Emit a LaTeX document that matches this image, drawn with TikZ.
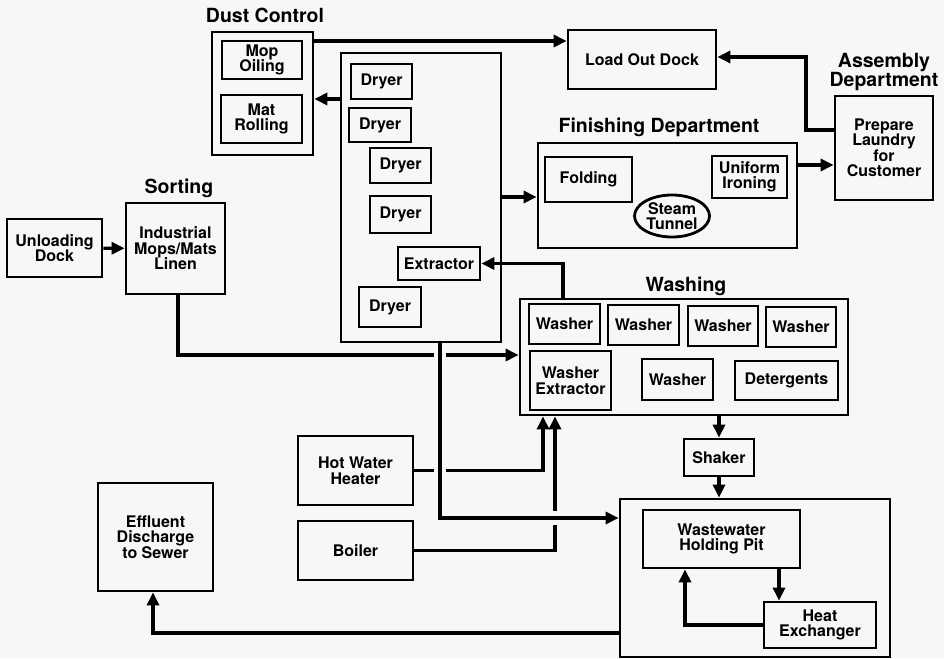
\documentclass[tikz,border=0pt]{standalone}
\usepackage{fontspec}
\setmainfont{TeX Gyre Heros}
\usetikzlibrary{arrows.meta,shapes.geometric,calc}
\definecolor{bg}{RGB}{247,247,247}
\newcommand\myboxfont{\fontsize{16}{15.5}\selectfont\bfseries}
\newcommand\myttlfont{\fontsize{19.5}{19.5}\selectfont\bfseries}
\tikzset{
  box/.style={draw, rectangle, line width=2.8pt, inner sep=0pt, align=center, font=\myboxfont},
  grp/.style={draw, rectangle, line width=2.8pt, inner sep=0pt},
  ttl/.style={inner sep=0pt, align=center, font=\myttlfont},
  conn/.style={line width=3.2pt},
  arr/.style={conn, -{Triangle[length=13pt,width=12pt]}},
}
\begin{document}
\begin{tikzpicture}[x=1pt,y=-1pt]
\fill[bg] (0,0) rectangle (944,658);
\useasboundingbox (0,0) rectangle (944,658);

% titles
\node[ttl] (tDust) at (265,15) {Dust Control};
\node[ttl] (tSort) at (179,188) {Sorting};
\node[ttl] (tAsm) at (884,72) {Assembly\\Department};
\node[ttl] (tFin) at (659,127) {Finishing Department};
\node[ttl] (tWash) at (686,286) {Washing};

% left
\node[box, minimum width=95pt, minimum height=58pt] (unload) at (54.5,248) {Unloading\\Dock};
\node[box, minimum width=99pt, minimum height=91pt] (sort) at (175.5,248.5) {Industrial\\Mops/Mats\\Linen};

% dust control
\node[grp, minimum width=101pt, minimum height=123pt] (dust) at (262.5,93.5) {};
\node[box, minimum width=80pt, minimum height=38pt] (mop) at (262,60) {Mop\\Oiling};
\node[box, minimum width=81pt, minimum height=48pt] (mat) at (261.5,119) {Mat\\Rolling};

% dryers
\node[grp, minimum width=160pt, minimum height=289pt] (dgroup) at (421,197.5) {};
\node[box, minimum width=61pt, minimum height=35pt] (d1) at (381.5,81.5) {Dryer};
\node[box, minimum width=62pt, minimum height=34pt] (d2) at (380,125) {Dryer};
\node[box, minimum width=61pt, minimum height=35pt] (d3) at (400.5,165.5) {Dryer};
\node[box, minimum width=61pt, minimum height=37pt] (d4) at (400.5,214.5) {Dryer};
\node[box, minimum width=82pt, minimum height=33pt] (ext) at (439,263.5) {Extractor};
\node[box, minimum width=62pt, minimum height=40pt] (d6) at (390,307) {Dryer};

% load out, assembly
\node[box, minimum width=148pt, minimum height=59pt] (load) at (642,59.5) {Load Out Dock};
\node[box, minimum width=98pt, minimum height=104pt] (prep) at (884,148) {Prepare\\Laundry\\for\\Customer};

% finishing
\node[grp, minimum width=259pt, minimum height=105pt] (fin) at (667.5,195.5) {};
\node[box, minimum width=87pt, minimum height=45pt] (fold) at (588.5,179.5) {Folding};
\node[box, ellipse, minimum width=75pt, minimum height=42pt] (steam) at (672,216) {Steam\\Tunnel};
\node[box, minimum width=75pt, minimum height=42pt] (iron) at (749.5,177) {Uniform\\Ironing};

% washing
\node[grp, minimum width=328pt, minimum height=116pt] (wash) at (684,357) {};
\node[box, minimum width=71pt, minimum height=40pt] (w1) at (564.5,324) {Washer};
\node[box, minimum width=71pt, minimum height=40pt] (w2) at (643.5,325) {Washer};
\node[box, minimum width=70pt, minimum height=40pt] (w3) at (723,326) {Washer};
\node[box, minimum width=70pt, minimum height=40pt] (w4) at (801,327) {Washer};
\node[box, minimum width=81pt, minimum height=59pt] (wext) at (570.5,380.5) {Washer\\Extractor};
\node[box, minimum width=71pt, minimum height=41pt] (w5) at (677.5,379.5) {Washer};
\node[box, minimum width=103pt, minimum height=39pt] (det) at (786.5,380.5) {Detergents};

\node[box, minimum width=70pt, minimum height=37pt] (shaker) at (719,457.5) {Shaker};
\node[box, minimum width=115pt, minimum height=69pt] (hwh) at (355.5,470.5) {Hot Water\\Heater};
\node[box, minimum width=115pt, minimum height=59pt] (boiler) at (355.5,550.5) {Boiler};
\node[box, minimum width=115pt, minimum height=108pt] (eff) at (155.5,537) {Effluent\\Discharge\\to Sewer};

% wastewater
\node[grp, minimum width=270pt, minimum height=158pt] (wwbox) at (755,578) {};
\node[box, minimum width=157pt, minimum height=58pt] (pit) at (721.5,539) {Wastewater\\Holding Pit};
\node[box, minimum width=112pt, minimum height=46pt] (hx) at (820,625) {Heat\\Exchanger};

% helper coordinates
\coordinate (ySort) at (0,355);
\coordinate (xSort) at (178,0);
\coordinate (xDry) at (440,0);
\coordinate (yDry) at (0,518);
\coordinate (yDust) at (0,99);
\coordinate (yLoad) at (0,41);
\coordinate (yFin) at (0,197);
\coordinate (yPrep) at (0,165);
\coordinate (yAsm1) at (0,130);
\coordinate (xAsm) at (806,0);
\coordinate (yAsm2) at (0,57);
\coordinate (xWashUp) at (563,0);
\coordinate (xHot) at (543,0);
\coordinate (xBoil) at (555,0);
\coordinate (yEff) at (0,633);
\coordinate (xEff) at (153,0);
\coordinate (xPit1) at (779,0);
\coordinate (xPit2) at (685,0);

% connectors
\draw[arr] (unload) -- (sort);
\draw[arr] (sort.south -| xSort) |- (wash.west |- ySort);
\draw[arr] (hwh.east) -| (xHot |- wash.south);
\draw[arr] (boiler.east) -| (xBoil |- wash.south);
% crossing gaps
\fill[bg] ($(xDry |- ySort)+(-6,-3)$) rectangle ($(xDry |- ySort)+(6,3)$);
\fill[bg] ($(xDry |- hwh.east)+(-6,-3)$) rectangle ($(xDry |- hwh.east)+(6,3)$);
\fill[bg] ($(xBoil |- yDry)+(-3,-7)$) rectangle ($(xBoil |- yDry)+(3,7)$);
\draw[arr] (dgroup.south -| xDry) |- (wwbox.west |- yDry);

\draw[arr] (dgroup.west |- yDust) -- (dust.east |- yDust);
\draw[arr] (dust.east |- yLoad) -- (load.west |- yLoad);
\draw[arr] (dgroup.east |- yFin) -- (fin.west |- yFin);
\draw[arr] (fin.east |- yPrep) -- (prep.west |- yPrep);
\draw[arr] (prep.west |- yAsm1) -- (xAsm |- yAsm1) -- (xAsm |- yAsm2) -- (load.east |- yAsm2);
\draw[arr] (wash.north -| xWashUp) |- (ext.east);
\draw[arr] (wash.south -| shaker.north) -- (shaker.north);
\draw[arr] (shaker.south) -- (wwbox.north -| shaker.south);
\draw[arr] (wwbox.west |- yEff) -| (eff.south -| xEff);
\draw[arr] (pit.south -| xPit1) -- (hx.north -| xPit1);
\draw[arr] (hx.west) -| (pit.south -| xPit2);
\end{tikzpicture}
\end{document}
